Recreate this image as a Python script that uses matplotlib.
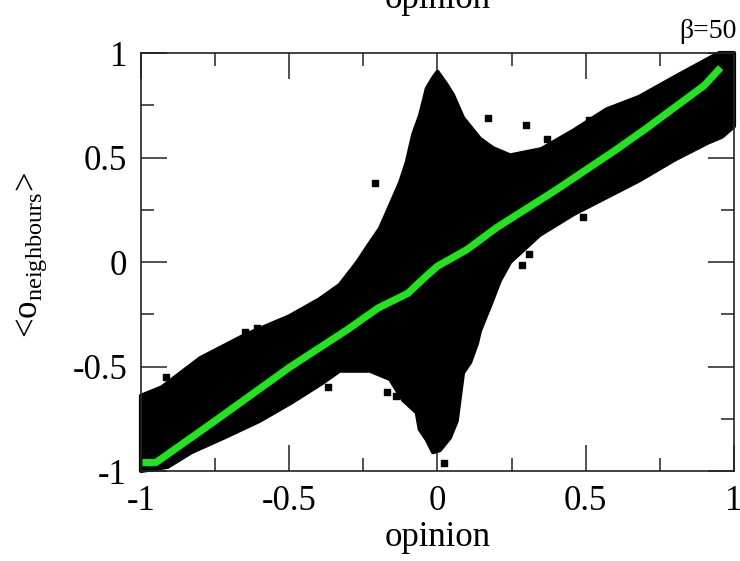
import numpy as np
import matplotlib
matplotlib.use('Agg')
import matplotlib.pyplot as plt
import matplotlib.ticker as tic

plt.rcParams['font.family'] = ['Liberation Serif', 'DejaVu Serif']
plt.rcParams['mathtext.fontset'] = 'custom'
plt.rcParams['mathtext.rm'] = 'Liberation Serif'
plt.rcParams['mathtext.it'] = 'Liberation Serif:italic'
plt.rcParams['axes.unicode_minus'] = False

# upper / lower edge of the black point cloud
UpX = [-1.0, -0.93, -0.8, -0.65, -0.5, -0.4, -0.33, -0.27, -0.228, -0.194, -0.16, -0.126,
       -0.103, -0.082, -0.059, -0.036, -0.015, 0.0, 0.03, 0.052, 0.086, 0.143, 0.187,
       0.245, 0.35, 0.46, 0.57, 0.68, 0.8, 0.91, 0.95, 1.0]
UpY = [-0.64, -0.6, -0.46, -0.35, -0.26, -0.18, -0.11, 0.0, 0.09, 0.16, 0.27, 0.38,
       0.48, 0.61, 0.70, 0.83, 0.88, 0.91, 0.85, 0.8, 0.69, 0.59, 0.545,
       0.51, 0.54, 0.63, 0.73, 0.79, 0.885, 0.97, 1.0, 1.0]
LoX = [-1.0, -0.91, -0.83, -0.72, -0.6, -0.49, -0.39, -0.33, -0.228, -0.16, -0.116, -0.07,
       -0.06, -0.036, -0.015, 0.008, 0.042, 0.065, 0.076, 0.086, 0.11, 0.133, 0.143, 0.18,
       0.21, 0.245, 0.345, 0.46, 0.57, 0.68, 0.8, 0.91, 0.96, 1.0]
LoY = [-1.0, -0.98, -0.91, -0.84, -0.76, -0.67, -0.58, -0.52, -0.52, -0.56, -0.66, -0.72,
       -0.8, -0.85, -0.91, -0.9, -0.84, -0.76, -0.64, -0.53, -0.48, -0.39, -0.33, -0.2,
       -0.09, 0.0, 0.13, 0.23, 0.31, 0.39, 0.49, 0.57, 0.6, 0.65]

# stray points outside the dense cloud
OutX = [-0.915, -0.65, -0.61, -0.37, -0.21, 0.17, 0.30, 0.37, 0.51, 0.49, 0.31, 0.285,
        0.022, -0.17, -0.14]
OutY = [-0.55, -0.335, -0.315, -0.6, 0.38, 0.69, 0.655, 0.59, 0.68, 0.215, 0.04, -0.015,
        -0.96, -0.62, -0.64]

# green average curve
AvX = [-0.995, -0.95, -0.75, -0.5, -0.3, -0.2, -0.1, -0.04, 0.0, 0.05, 0.1, 0.2, 0.3,
       0.4, 0.5, 0.6, 0.7, 0.8, 0.9, 0.955]
AvY = [-0.96, -0.96, -0.76, -0.505, -0.32, -0.22, -0.15, -0.07, -0.02, 0.02, 0.06, 0.165,
       0.255, 0.345, 0.44, 0.535, 0.635, 0.74, 0.845, 0.93]

Ticks = [-1, -0.5, 0, 0.5, 1]
TickLabels = ['-1', '-0.5', '0', '0.5', '1']

fig = plt.figure(figsize=(7.4, 5.61), dpi=100)
ax = fig.add_axes([0.1905, 0.1604, 0.8014, 0.7451])

CloudX = np.concatenate([UpX, LoX[::-1]])
CloudY = np.concatenate([UpY, LoY[::-1]])
ax.fill(CloudX, CloudY, color='black', lw=3, ec='black', joinstyle='round', zorder=2,
        clip_on=False)
ax.scatter(OutX, OutY, s=22, marker='s', color='black', zorder=2)
ax.plot(AvX, AvY, color='#22e41e', lw=5.2, zorder=3, solid_capstyle='butt')

ax.set_xlim(-1, 1)
ax.set_ylim(-1, 1)
ax.set_xticks(Ticks)
ax.set_xticklabels(TickLabels)
ax.set_yticks(Ticks)
ax.set_yticklabels(TickLabels)
ax.xaxis.set_minor_locator(tic.MultipleLocator(0.25))
ax.yaxis.set_minor_locator(tic.MultipleLocator(0.25))
ax.tick_params(which='both', direction='in', top=True, right=True, width=1.1,
               labelsize=25, color='#222222')
ax.tick_params(which='major', length=19, pad=10)
ax.tick_params(which='minor', length=9.5)
for s in ax.spines.values():
    s.set_linewidth(1.2)
    s.set_color('#222222')

ax.set_xlabel('opinion', fontsize=25, labelpad=2)
ax.set_ylabel(r'<o$_{\rm neighbours}$>', fontsize=25, va='center')
ax.yaxis.set_label_coords(-0.185, 0.517)
fig.text(0.591, 0.986, 'opinion', fontsize=25, ha='center', va='baseline')
fig.text(0.996, 0.932, 'β=50', fontsize=20, ha='right', va='baseline')

fig.savefig('out.png', dpi=100)
